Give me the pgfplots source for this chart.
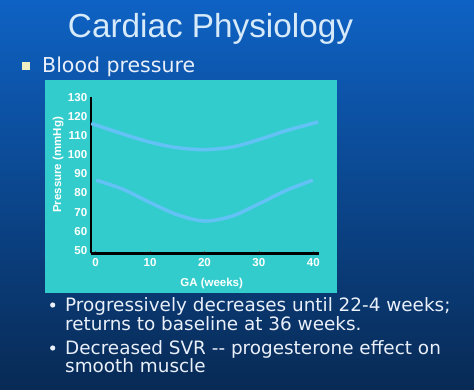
\documentclass[border=0pt]{standalone}
\usepackage{pgfplots}
\pgfplotsset{compat=1.18}
\usepackage{fontspec}
\newfontfamily\arialf{Liberation Sans}
\newfontfamily\verdf{DejaVu Sans}
\definecolor{bgtop}{HTML}{0E62C4}
\definecolor{bgmid}{HTML}{0A50A6}
\definecolor{bgbot}{HTML}{082A55}
\definecolor{panel}{HTML}{33CCCC}
\definecolor{curve}{HTML}{62C2F6}
\definecolor{titlec}{HTML}{D6EAFA}
\definecolor{txt}{HTML}{EAF0FA}
\definecolor{sq}{HTML}{F2EEC4}
\begin{document}
\begin{tikzpicture}[x=1bp,y=1bp]
\useasboundingbox (0,0) rectangle (474,389);
\shade[top color=bgtop, middle color=bgmid, bottom color=bgbot] (0,0) rectangle (474,389);
\fill[panel] (45,96) rectangle (337,309);
\begin{axis}[
  at={(90.7bp,135.7bp)}, anchor=south west,
  scale only axis, width=228.6bp, height=155.8bp,
  xmin=-0.9, xmax=41.1, ymin=48.4, ymax=130,
  axis x line*=bottom, axis y line*=left,
  axis line style={-},
  x axis line style={line width=2.6bp},
  y axis line style={line width=2bp},
  xtick={0,10,20,30,40}, ytick={50,60,70,80,90,100,110,120,130},
  tick align=inside, major tick length=2bp,
  y tick style={draw=none},
  x tick style={black!60, line width=0.6bp},
  /pgf/number format/assume math mode=true,
  tick label style={font=\arialf\bfseries\fontsize{11.5bp}{13bp}\selectfont, text=white},
  xticklabel style={yshift=-2bp},
  label style={font=\arialf\bfseries\fontsize{11.5bp}{13bp}\selectfont, text=white},
  xlabel={GA (weeks)}, ylabel={Pressure (mmHg)},
  xlabel style={at={(axis description cs:0.529,-0.197)}, anchor=center},
  ylabel style={at={(axis description cs:-0.142,0.567)}, anchor=center},
  clip=false,
]
\addplot[curve, line width=3.5bp, smooth] coordinates {
  (-0.8,116.4) (5,110.9) (10,106.6) (15,103.7) (20,102.7)
  (25,104.0) (30,107.9) (35,112.6) (40.9,117.2)};
\addplot[curve, line width=3.5bp, smooth] coordinates {
  (0.1,86.7) (5,82.0) (10,75.0) (15,68.6) (20,65.3)
  (25,67.8) (30,74.3) (35,81.3) (39.9,86.7)};
\end{axis}
\node[anchor=base, inner sep=0, text=titlec, font=\arialf\fontsize{33.3bp}{36bp}\selectfont] at (210.5,352) {Cardiac Physiology};
\fill[sq] (22,319) rectangle (30,327);
\node[anchor=base west, inner sep=0, text=txt, font=\verdf\fontsize{20.5bp}{24bp}\selectfont] at (42,316.5) {Blood pressure};
\fill[txt] (52.7,84) circle (2.6);
\fill[txt] (52.7,41) circle (2.6);
\begin{scope}[every node/.style={anchor=base west, inner sep=0, text=txt, font=\verdf\fontsize{18.4bp}{22bp}\selectfont}]
\node at (65,77.5) {Progressively decreases until 22-4 weeks;};
\node at (65,59) {returns to baseline at 36 weeks.};
\node at (65,35) {Decreased SVR -\kern0pt- progesterone effect on};
\node at (65,16.5) {smooth muscle};
\end{scope}
\end{tikzpicture}
\end{document}
